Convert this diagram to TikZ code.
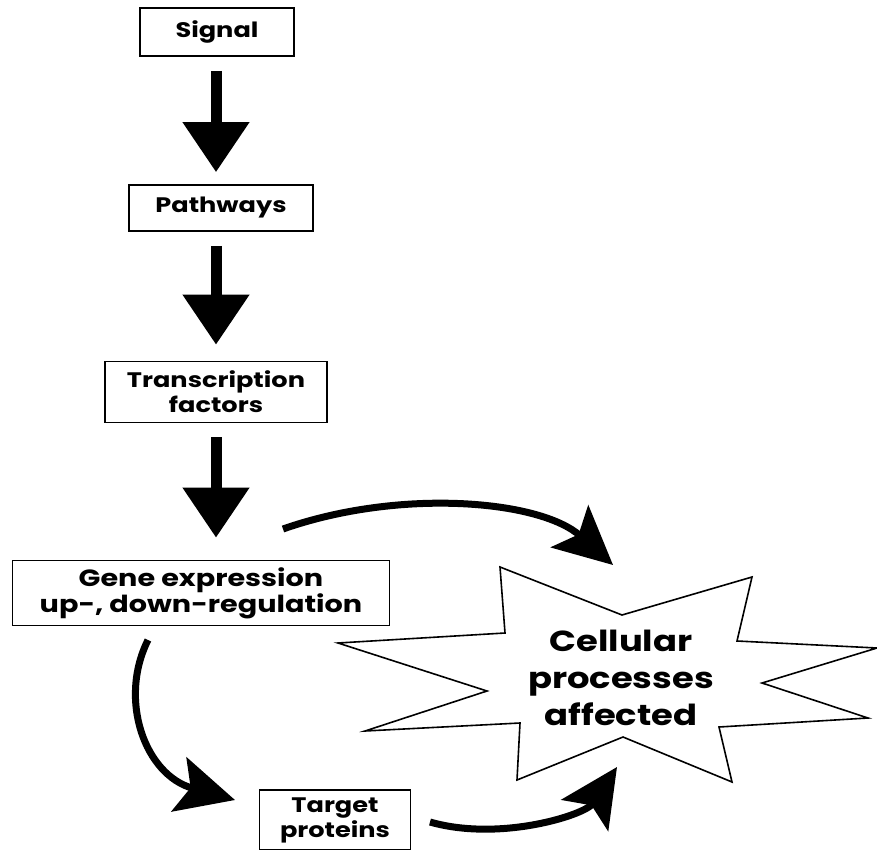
\documentclass[tikz,border=0pt]{standalone}
\usepackage{fontspec}
\setmainfont{Poppins}[FakeStretch=1.22]
\usepackage{tikz}
\usetikzlibrary{arrows.meta,calc}
\tikzset{
  box/.style={draw,line width=1.6pt,rectangle,inner sep=0pt,align=center,
    font=\fontsize{21}{25}\selectfont\bfseries},
  bigarrow/.style={line width=11pt,-{Triangle[width=64pt,length=50pt]}},
  curvearrow/.style={line width=7pt,-{Stealth[width=56pt,length=58pt,inset=12pt]}}
}
\begin{document}
\begin{tikzpicture}[x=1pt,y=-1pt]
\useasboundingbox (0,0) rectangle (877,850);
%boxes
\node[box,minimum width=154pt,minimum height=48pt] (sig) at (217,32) {Signal};
\node[box,minimum width=184pt,minimum height=46pt] (path) at (221,208) {Pathways};
\node[box,minimum width=222pt,minimum height=61pt] (tf) at (216,392) {Transcription\\factors};
\node[box,minimum width=377pt,minimum height=65pt,font=\fontsize{23.5}{24.5}\selectfont\bfseries] (gene) at (201,593)
{Gene expression\\up-, down-regulation};
\node[box,minimum width=151pt,minimum height=60pt] (target) at (335,820) {Target\\proteins};
%star
\draw[line width=1.6pt,fill=white] (500,567)--(622,615)--(752,577)--(737,641)--(877,648)
--(762,683)--(868,718)--(719,727)--(732,782)--(623,737)--(517,780)--(520,723)
--(365,731)--(487,691)--(338,643)--(505,633)--cycle;
\node[align=center,font=\fontsize{29}{37}\selectfont\bfseries] (cell) at (621,678)
{Cellular\\processes\\affected};
%straight arrows
\draw[bigarrow,shorten <=14pt,shorten >=12pt] (sig.south -| tf) -- (path.north -| tf);
\draw[bigarrow,shorten <=14pt,shorten >=16pt] (path.south -| tf) -- (tf.north -| tf);
\draw[bigarrow,shorten <=14pt,shorten >=22pt] (tf.south) -- (gene.north -| tf);
%curved arrows
\coordinate (geneup) at (283,529);
\coordinate (genedown) at (148,640);
\coordinate (celltop) at (613,565);
\coordinate (targetin) at (235,800);
\coordinate (targetout) at (430,822);
\coordinate (cellbot) at (617,767);
\draw[curvearrow] (geneup) .. controls (400,488) and (540,500) .. (celltop);
\draw[curvearrow] (genedown) .. controls (118,700) and (145,775) .. (targetin);
\draw[curvearrow] (targetout) .. controls (500,842) and (585,815) .. (cellbot);
\end{tikzpicture}
\end{document}
